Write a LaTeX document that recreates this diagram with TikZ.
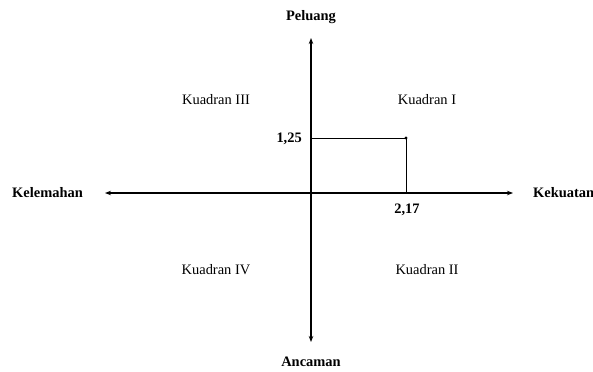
\documentclass[tikz,border=0pt]{standalone}
\usepackage{fontspec}
\setmainfont{Liberation Serif}
\usetikzlibrary{arrows.meta}
\begin{document}
\begin{tikzpicture}[x=1bp,y=-1bp,
  axis/.style={line width=1.1bp,-{Stealth[length=6bp,width=4.5bp]}},
  guide/.style={line width=0.7bp},
  lbl/.style={font=\fontsize{14.5}{16}\selectfont\bfseries,inner sep=0pt},
  quad/.style={font=\fontsize{14.5}{16}\selectfont,inner sep=0pt}]
\useasboundingbox (0,0) rectangle (593,371);
\coordinate (O) at (311,193);
\coordinate (top) at (311,38);
\coordinate (bot) at (311,342);
\coordinate (left) at (105,193);
\coordinate (right) at (513,193);
\coordinate (P) at (406,138);
\coordinate (Py) at (311,138);
\coordinate (Px) at (406,193);
\draw[axis] (O) -- (top);
\draw[axis] (O) -- (bot);
\draw[axis] (O) -- (left);
\draw[axis] (O) -- (right);
\draw[guide] (Py) -- (P) -- (Px);
\fill (P) circle (1.6bp);
\node[lbl] (peluang) at (311,17) {Peluang};
\node[lbl] (ancaman) at (311,362) {Ancaman};
\node[lbl,anchor=east] (kelemahan) at (83,193) {Kelemahan};
\node[lbl,anchor=west] (kekuatan) at (533,193) {Kekuatan};
\node[lbl,anchor=east] (y125) at (302,139) {1,25};
\node[lbl] (x217) at (407,210) {2,17};
\node[quad] (q3) at (216,100) {Kuadran III};
\node[quad] (q1) at (427,100) {Kuadran I};
\node[quad] (q4) at (216,270) {Kuadran IV};
\node[quad] (q2) at (427,270) {Kuadran II};
\end{tikzpicture}
\end{document}
